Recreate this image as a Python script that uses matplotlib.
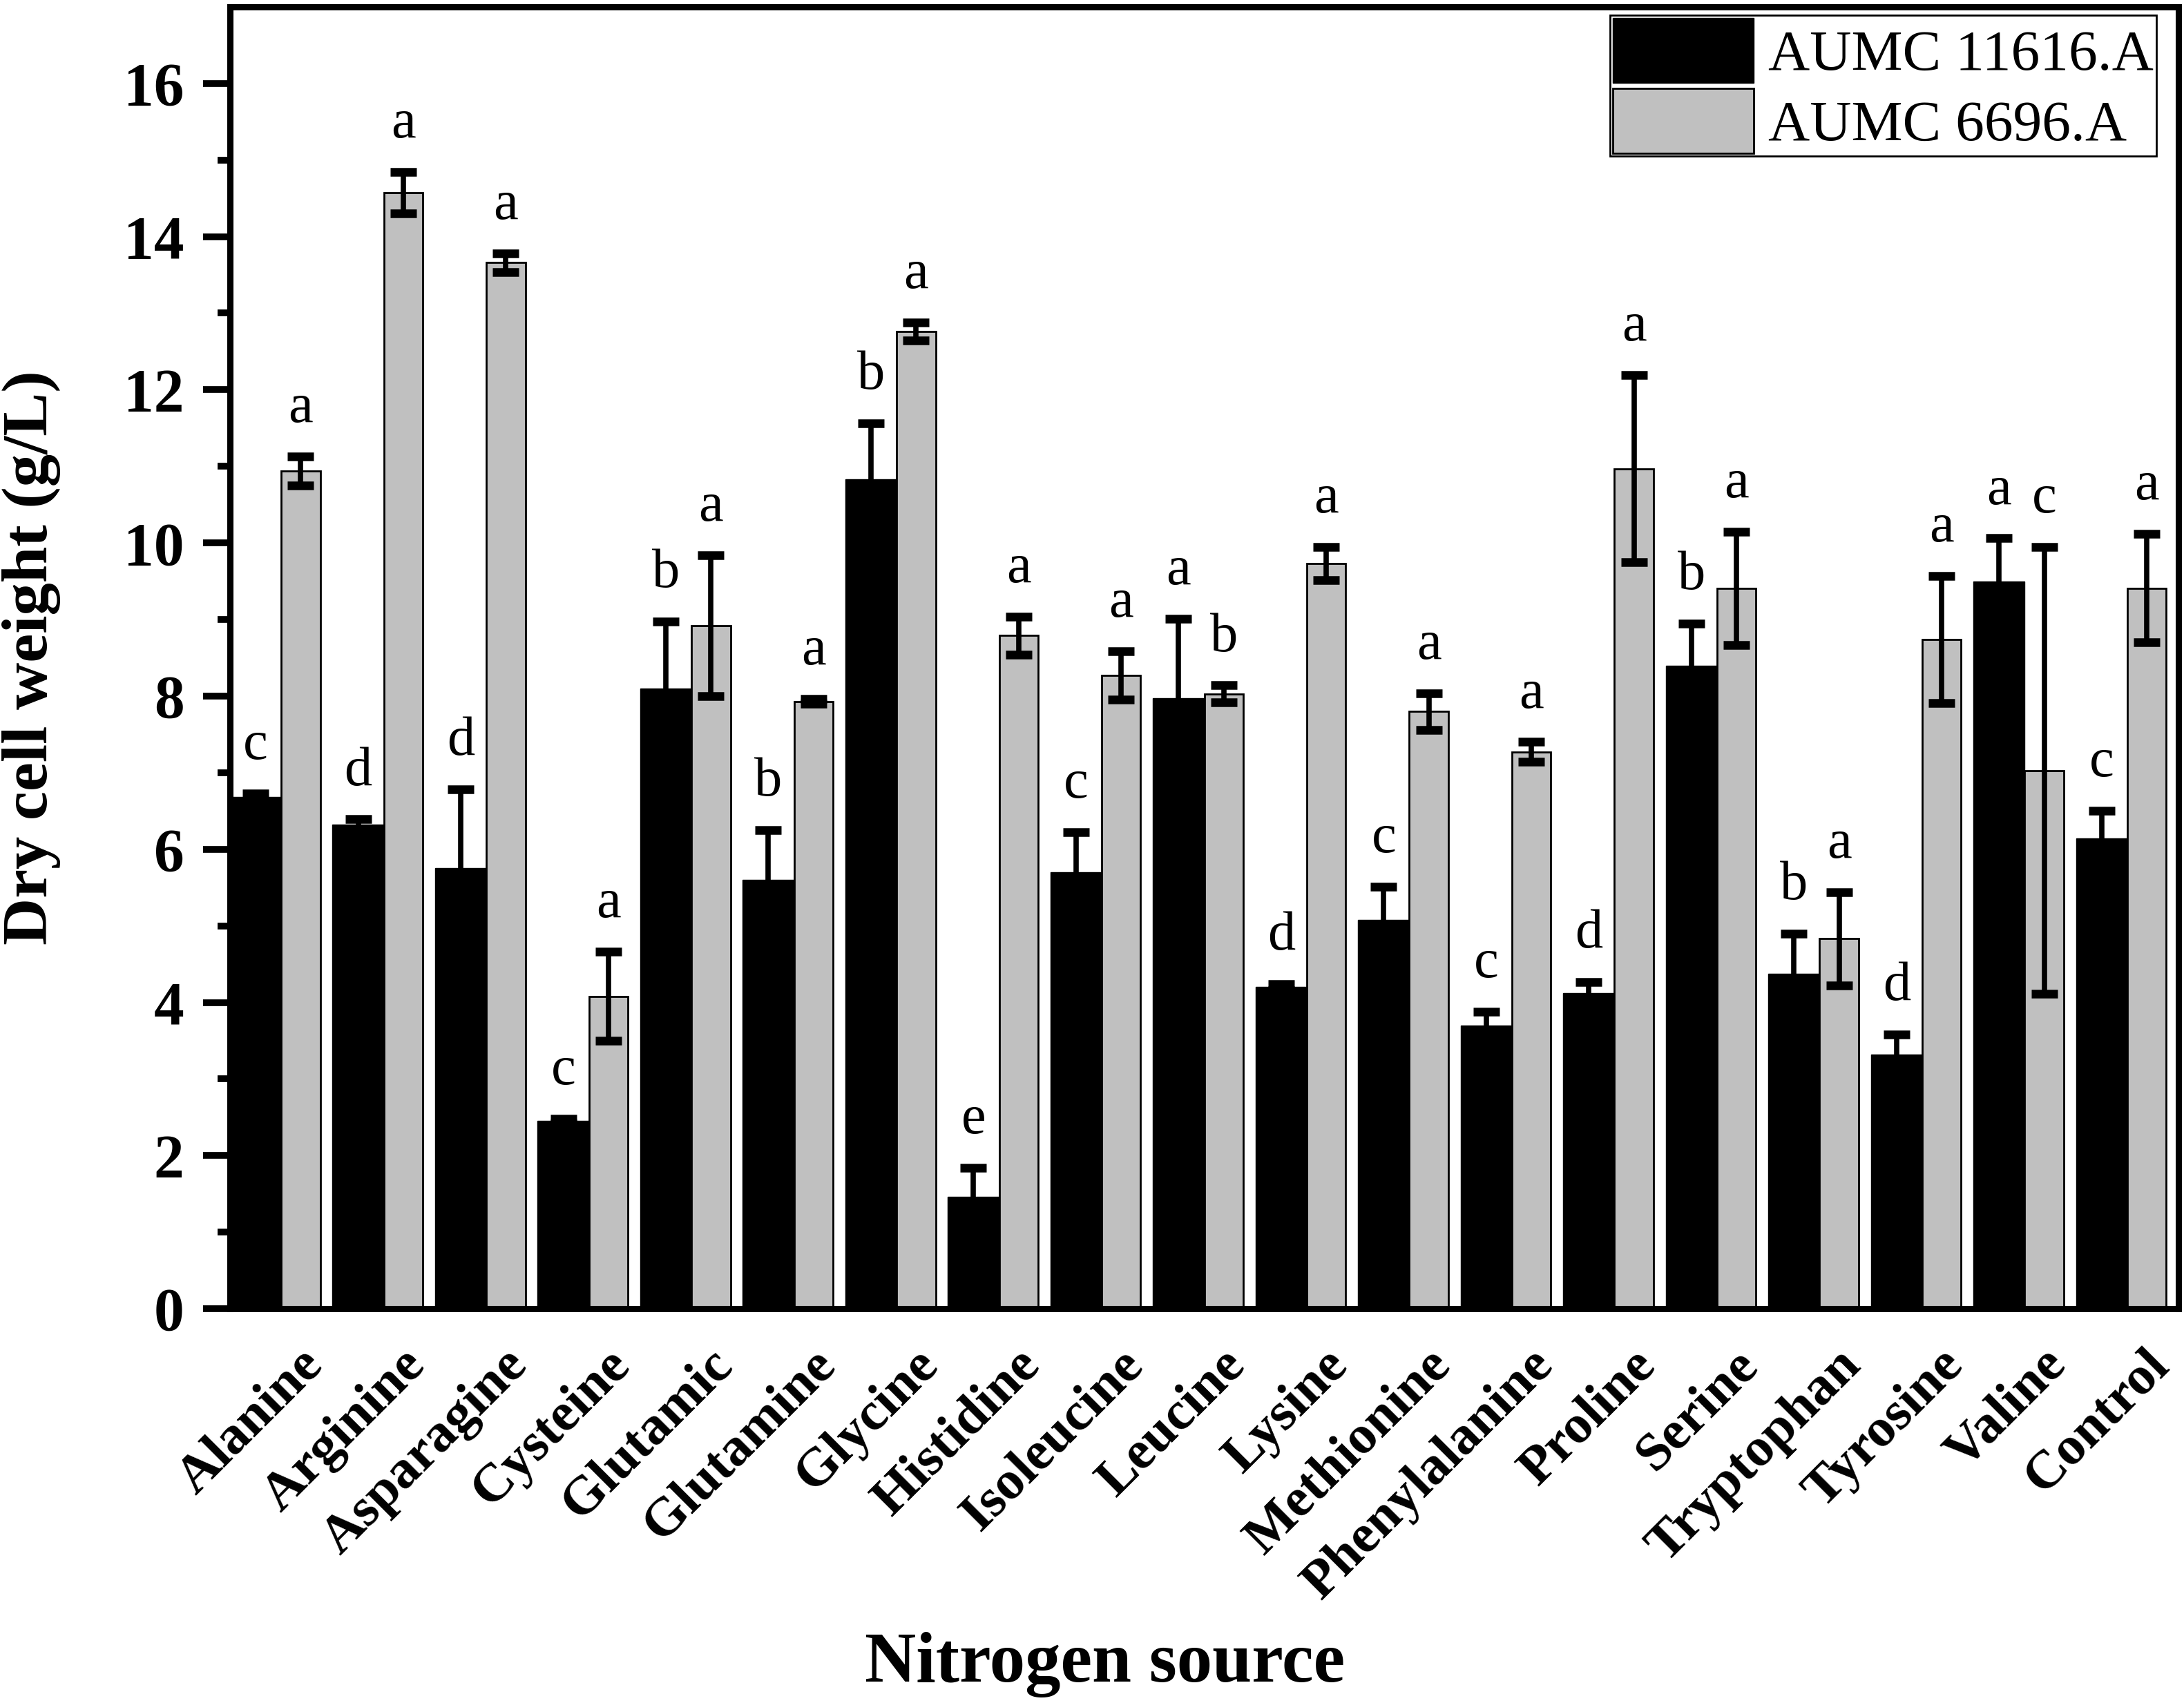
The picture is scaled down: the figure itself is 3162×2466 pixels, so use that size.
import numpy as np
import matplotlib.pyplot as plt

# nitrogen sources and dry cell weight (g/L)
sources = ['Alanine', 'Arginine', 'Asparagine', 'Cysteine', 'Glutamic', 'Glutamine',
           'Glycine', 'Histidine', 'Isoleucine', 'Leucine', 'Lysine', 'Methionine',
           'Phenylalanine', 'Proline', 'Serine', 'Tryptophan', 'Tyrosine', 'Valine',
           'Control']

strain1 = [6.68, 6.32, 5.75, 2.45, 8.1, 5.6, 10.83, 1.46, 5.7, 7.97, 4.2, 5.08,
           3.7, 4.12, 8.4, 4.37, 3.32, 9.5, 6.14]
strain1_err = [0.05, 0.07, 1.03, 0.03, 0.87, 0.65, 0.73, 0.38, 0.52, 1.04, 0.04, 0.43,
               0.18, 0.15, 0.55, 0.53, 0.26, 0.56, 0.36]
strain1_letters = ['c', 'd', 'd', 'c', 'b', 'b', 'b', 'e', 'c', 'a', 'd', 'c',
                   'c', 'd', 'b', 'b', 'd', 'a', 'c']

strain2 = [10.94, 14.57, 13.66, 4.08, 8.92, 7.93, 12.76, 8.79, 8.27, 8.03, 9.73, 7.8,
           7.27, 10.97, 9.41, 4.83, 8.74, 7.03, 9.41]
strain2_err = [0.19, 0.27, 0.12, 0.58, 0.92, 0.03, 0.12, 0.25, 0.32, 0.11, 0.22, 0.24,
               0.13, 1.22, 0.74, 0.61, 0.83, 2.92, 0.71]
strain2_letters = ['a', 'a', 'a', 'a', 'a', 'a', 'a', 'a', 'a', 'b', 'a', 'a',
                   'a', 'a', 'a', 'a', 'a', 'c', 'a']

plt.rcParams['font.family'] = ['Liberation Serif', 'DejaVu Serif']

fig = plt.figure(figsize=(31.62, 24.66), dpi=100)
ax = fig.add_axes([0.1053, 0.2315, 0.8922, 0.7645])

x = np.arange(len(sources))
w1 = 0.5
w2 = 0.38
x1 = x - w1 / 2
x2 = x + w2 / 2

ax.bar(x1, strain1, width=w1, color='black', edgecolor='black', linewidth=1,
       label='AUMC 11616.A', zorder=2)
ax.bar(x2, strain2, width=w2, color='#c0c0c0', edgecolor='black', linewidth=2,
       label='AUMC 6696.A', zorder=2)

ebkw = dict(fmt='none', ecolor='black', elinewidth=5.5, capsize=14, capthick=9, zorder=3)
ax.errorbar(x1, strain1, yerr=strain1_err, **ebkw)
ax.errorbar(x2, strain2, yerr=strain2_err, **ebkw)

for xi, v, e, t in zip(x1, strain1, strain1_err, strain1_letters):
    ax.text(xi, v + e + 0.45, t, ha='center', va='baseline', fontsize=58)
for xi, v, e, t in zip(x2, strain2, strain2_err, strain2_letters):
    ax.text(xi, v + e + 0.45, t, ha='center', va='baseline', fontsize=58)

ax.set_xlim(-0.5, 18.5)
ax.set_ylim(0, 17)
ax.set_yticks(np.arange(0, 17, 2))
ax.set_yticks(np.arange(1, 17, 2), minor=True)
ax.tick_params(axis='y', which='major', direction='out', length=28, width=7,
               pad=20, labelsize=63)
ax.tick_params(axis='y', which='minor', direction='out', length=13, width=7)
for lab in ax.get_yticklabels():
    lab.set_fontweight('bold')

ax.set_xticks(x + 0.16)
ax.set_xticklabels(sources, rotation=45, ha='right', va='top',
                   rotation_mode='anchor', fontsize=57, fontweight='bold')
ax.tick_params(axis='x', length=0, pad=33)

for s in ax.spines.values():
    s.set_linewidth(6.5)

ax.set_ylabel('Dry cell weight (g/L)', fontsize=68, fontweight='bold')
ax.yaxis.set_label_coords(-0.087, 0.5)
ax.set_xlabel('Nitrogen source', fontsize=74, fontweight='bold')
ax.xaxis.set_label_coords(0.449, -0.248)

leg = ax.legend(loc='upper right', bbox_to_anchor=(0.9887, 0.9936), borderaxespad=0,
                fontsize=60, handlelength=2.45, handleheight=1.35, labelspacing=0.1,
                borderpad=0.05, handletextpad=0.25, fancybox=False, framealpha=1,
                edgecolor='black')
leg.get_frame().set_linewidth(2)

fig.savefig('out.png', dpi=100)
